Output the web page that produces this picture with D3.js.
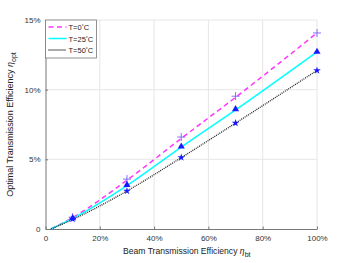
<!DOCTYPE html>
<html>
<head>
<meta charset="utf-8">
<script src="https://cdn.jsdelivr.net/npm/d3@7"></script>
<style>
  body { margin: 0; background: #fff; }
  svg { font-family: Helvetica, Arial, "Liberation Sans", sans-serif; }
</style>
</head>
<body>
<div id="chart"></div>
<script>
// beam transmission efficiency (%) where curves are sampled
const lineX = [2, 10, 30, 50, 70, 100];
const lineT0 = [0, 0.82, 3.5, 6.5, 9.45, 14.07];
const lineT25 = [0, 0.76, 3.12, 5.88, 8.55, 12.72];
const lineT50 = [0, 0.68, 2.73, 5.12, 7.6, 11.38];

// simulated points
const markX = [10, 30, 50, 70, 100];
const markT0 = [0.85, 3.58, 6.6, 9.53, 14.07];
const markT25 = [0.78, 3.17, 5.92, 8.6, 12.72];
const markT50 = [0.72, 2.73, 5.13, 7.6, 11.38];

const xTicks = [0, 20, 40, 60, 80, 100];
const yTicks = [0, 5, 10, 15];

const width = 350, height = 263;
const margin = { top: 20, right: 33, bottom: 34, left: 45.5 };

const svg = d3.select("#chart").append("svg")
  .attr("width", width).attr("height", height);

const x = d3.scaleLinear().domain([0, 100]).range([margin.left, width - margin.right]);
const y = d3.scaleLinear().domain([0, 15]).range([height - margin.bottom, margin.top]);

// grid
svg.append("g").selectAll("line").data(xTicks.slice(1)).join("line")
  .attr("x1", d => x(d)).attr("x2", d => x(d))
  .attr("y1", y(0)).attr("y2", y(15))
  .attr("stroke", "#e6e6e6").attr("stroke-width", 1);
svg.append("g").selectAll("line").data(yTicks.slice(1)).join("line")
  .attr("x1", x(0)).attr("x2", x(100))
  .attr("y1", d => y(d)).attr("y2", d => y(d))
  .attr("stroke", "#e6e6e6").attr("stroke-width", 1);

// axes
const fmtX = d => d === 0 ? "0" : d + "%";
const xAxis = svg.append("g").attr("transform", `translate(0,${y(0)})`)
  .call(d3.axisBottom(x).tickValues(xTicks).tickFormat(fmtX).tickSizeInner(-2.5).tickSizeOuter(0).tickPadding(6));
const yAxis = svg.append("g").attr("transform", `translate(${x(0)},0)`)
  .call(d3.axisLeft(y).tickValues(yTicks).tickFormat(fmtX).tickSizeInner(-2.5).tickSizeOuter(0).tickPadding(5));
[xAxis, yAxis].forEach(a => {
  a.select(".domain").attr("stroke", "#777");
  a.selectAll(".tick line").attr("stroke", "#777");
  a.selectAll("text").attr("fill", "#333").style("font-size", "8px");
});

// lines
const line = d3.line().x(d => x(d[0])).y(d => y(d[1])).curve(d3.curveMonotoneX);
const series = [
  { name: "T=0", vals: lineT0, color: "#ff33ff", dash: "5,3.5", w: 1.5 },
  { name: "T=25", vals: lineT25, color: "#00ffff", dash: null, w: 1.5 },
  { name: "T=50", vals: lineT50, color: "#222", dash: "1,1", w: 1.3 }
];
series.forEach(s => {
  svg.append("path")
    .datum(lineX.map((v, i) => [v, s.vals[i]]))
    .attr("d", line)
    .attr("fill", "none")
    .attr("stroke", s.color)
    .attr("stroke-width", s.w)
    .attr("stroke-dasharray", s.dash);
});

// markers
const blue = "#1a1aff";
svg.append("g").selectAll("path").data(markX.map((v, i) => [v, markT0[i]])).join("path")
  .attr("transform", d => `translate(${x(d[0])},${y(d[1])})`)
  .attr("d", "M-4,0H4M0,-4V4")
  .attr("stroke", "#7a5cff").attr("stroke-width", 0.9).attr("fill", "none");
svg.append("g").selectAll("path").data(markX.map((v, i) => [v, markT25[i]])).join("path")
  .attr("transform", d => `translate(${x(d[0])},${y(d[1])})`)
  .attr("d", d3.symbol(d3.symbolTriangle, 22)())
  .attr("fill", blue);
svg.append("g").selectAll("path").data(markX.map((v, i) => [v, markT50[i]])).join("path")
  .attr("transform", d => `translate(${x(d[0])},${y(d[1])})`)
  .attr("d", d3.symbol(d3.symbolStar, 18)())
  .attr("fill", blue);

// legend
const lg = svg.append("g").attr("transform", `translate(${x(0)},${y(15)})`);
lg.append("rect").attr("width", 51).attr("height", 38)
  .attr("fill", "#fff").attr("stroke", "#777").attr("stroke-width", 0.8);
series.forEach((s, i) => {
  const yy = 7 + i * 11.5;
  lg.append("line").attr("x1", 3).attr("x2", 21).attr("y1", yy).attr("y2", yy)
    .attr("stroke", s.color).attr("stroke-width", s.w).attr("stroke-dasharray", s.dash);
  const t = lg.append("text").attr("x", 23).attr("y", yy + 3)
    .style("font-size", "7.5px").attr("fill", "#222");
  t.append("tspan").text(s.name);
  t.append("tspan").text("°").attr("dy", -2).style("font-size", "5px");
  t.append("tspan").text("C").attr("dy", 2);
});

// axis labels
const xl = svg.append("text").attr("x", 123).attr("y", 254)
  .style("font-size", "8.6px").attr("fill", "#222");
xl.append("tspan").text("Beam Transmission Efficiency  ");
xl.append("tspan").text("η").style("font-style", "italic");
xl.append("tspan").text("bt").attr("dy", 3).style("font-size", "7px");

const yl = svg.append("text")
  .attr("transform", `translate(13,${y(7.5)}) rotate(-90)`)
  .attr("text-anchor", "middle").style("font-size", "9px").attr("fill", "#222");
yl.append("tspan").text("Optimal Transmission Efficiency  ");
yl.append("tspan").text("η").style("font-style", "italic");
yl.append("tspan").text("opt").attr("dy", 3).style("font-size", "7px");
</script>
</body>
</html>
